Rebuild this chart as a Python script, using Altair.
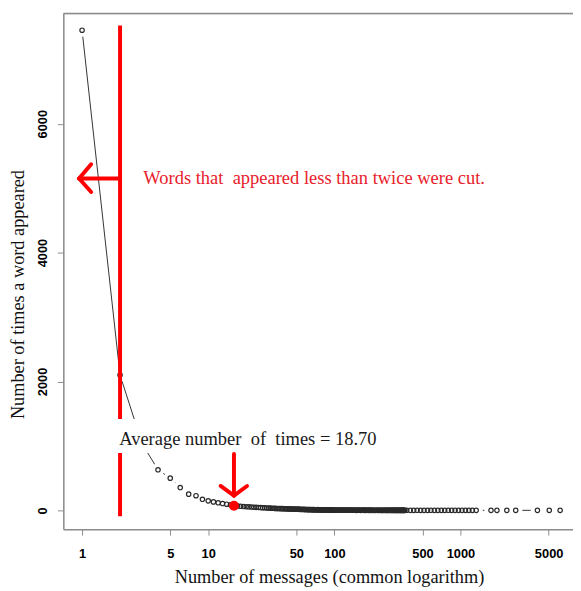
import altair as alt
import pandas as pd

# ---- data ----
messages_head = [1, 2, 3, 4, 5, 6, 7, 8, 9, 10, 11, 12, 13, 14, 15, 16, 17, 18, 19, 20,
                 21, 22, 23, 24, 25, 26, 27, 28, 29, 30, 31, 32, 33, 34, 35, 36, 37, 38, 39, 40,
                 41, 42, 43, 44, 45, 46, 47]
counts_head = [7450, 2100, 1030, 630, 500, 355, 252, 228, 172, 148, 132, 118, 106, 96, 86, 72, 70, 64, 60, 57,
               54, 52, 49, 47, 45, 43, 41, 40, 38, 37, 35, 34, 33, 31, 30, 29, 28, 28, 27, 26,
               25, 24, 24, 23, 22, 21, 21]

messages_band1 = [48, 49, 50, 51, 52, 53, 54, 55, 56, 57, 58, 59, 60, 61, 62, 63, 64, 65, 66, 67,
                  68, 69, 70, 71, 72, 73, 74, 75, 76, 77, 78, 79, 80, 81, 82, 83, 84, 85, 86, 87,
                  88, 89, 90, 91, 92, 93, 94, 95, 96, 97, 98, 99, 100]
counts_band1 = [20, 18, 21, 17, 19, 16, 18, 15, 17, 14, 16, 15, 13, 15, 12, 14, 13, 11, 13, 12,
                10, 12, 11, 9, 11, 10, 12, 9, 10, 8, 10, 9, 7, 9, 8, 10, 7, 8, 6, 8,
                7, 9, 6, 7, 5, 7, 6, 8, 5, 6, 7, 5, 6]

messages_band2 = [102, 104, 106, 108, 110, 112, 114, 116, 118, 120, 122, 124, 126, 128, 130, 132, 134, 136, 138, 140,
                  142, 144, 146, 148, 150, 152, 154, 156, 158, 160, 162, 164, 166, 168, 170, 172, 174, 176, 178, 180,
                  182, 184, 186, 188, 190, 192, 194, 196, 198, 200]
counts_band2 = [5, 7, 4, 6, 5, 3, 6, 4, 5, 3, 4, 6, 3, 5, 2, 4, 3, 5, 2, 4,
                3, 2, 4, 3, 1, 3, 2, 4, 2, 3, 1, 3, 2, 2, 4, 1, 3, 2, 1, 3,
                2, 2, 1, 3, 2, 1, 2, 3, 1, 2]

messages_band3 = [203, 206, 209, 212, 215, 218, 221, 224, 227, 230, 233, 236, 239, 242, 245, 248, 251, 254,
                  257, 260, 263, 266, 269, 272, 275, 278, 281, 284, 287, 290, 293, 296, 299, 302, 305, 308,
                  311, 314, 317, 320, 323, 326, 329, 332, 335, 338, 341, 344, 347, 350, 353, 356, 359, 362]
counts_band3 = [2, 1, 3, 1, 2, 2, 1, 3, 1, 2, 1, 2, 1, 1, 3, 1, 2, 1,
                2, 1, 1, 2, 1, 1, 2, 1, 3, 1, 1, 2, 1, 1, 2, 1, 1, 2,
                1, 1, 1, 2, 1, 1, 2, 1, 1, 1, 2, 1, 1, 1, 2, 1, 1, 1]

messages_sparse = [375, 400, 426, 453, 483, 514, 548, 583, 621, 662, 705, 750, 799, 851, 906, 965,
                   1028, 1095, 1166, 1242, 1332]
counts_sparse = [2, 1, 1, 2, 1, 1, 1, 2, 1, 1, 1, 1, 2, 1, 1, 1, 1, 1, 1, 1, 1]

messages_tail = [1746, 1945, 2330, 2741, 4074, 5058, 6166]
counts_tail = [1, 1, 1, 1, 1, 1, 1]

x_ticks = [1, 5, 10, 50, 100, 500, 1000, 5000]
y_ticks = [0, 2000, 4000, 6000]
cut_threshold = 2
average_label = "Average number\u00a0 of\u00a0 times = 18.70"
average_point_x = [16]
average_point_y = [72]
cut_label = "Words that\u00a0 appeared less than twice were cut."

df = pd.DataFrame({
    "x": messages_head + messages_band1 + messages_band2 + messages_band3 + messages_sparse + messages_tail,
    "y": counts_head + counts_band1 + counts_band2 + counts_band3 + counts_sparse + counts_tail,
})

W, H = 516, 522
SERIF = "Liberation Serif"
SANS = "'Liberation Sans Narrow', 'Liberation Sans', Arial, sans-serif"
RED = "#ff0000"
FRAME = "#8c8c8c"

x_scale = alt.Scale(type="log", domain=[0.71, 7800], nice=False)
y_scale = alt.Scale(domain=[-291, 7709], nice=False, zero=False)

x_axis = alt.Axis(values=x_ticks, format="d", title="Number of  messages (common logarithm)",
                  grid=False, domainColor=FRAME, domainWidth=1.5, tickColor=FRAME, tickSize=6,
                  labelFont=SANS, labelFontWeight="bold", labelFontSize=13,
                  labelColor="black", labelPadding=13, labelFlush=False, labelOverlap=False,
                  titleFont=SERIF, titleFontSize=18.5, titleFontWeight="normal", titleColor="#111",
                  titleX=269, titleY=54, titleAlign="center", titleBaseline="alphabetic")
y_axis = alt.Axis(values=y_ticks, format="d", title="Number of times a word appeared",
                  grid=False, domainColor=FRAME, domainWidth=1.5, tickColor=FRAME, tickSize=6,
                  labelFont=SANS, labelFontWeight="bold", labelFontSize=13,
                  labelColor="black", labelPadding=11, labelAngle=270, labelAlign="center",
                  labelBaseline="alphabetic", labelFlush=False, labelOverlap=False,
                  titleFont=SERIF, titleFontSize=18.5, titleFontWeight="normal", titleColor="#111",
                  titleAngle=270, titleX=-46, titleY=284, titleAlign="center", titleBaseline="middle")


def X(f="x"):
    return alt.X(f, type="quantitative", scale=x_scale, axis=x_axis)


def Y(f="y"):
    return alt.Y(f, type="quantitative", scale=y_scale, axis=y_axis)


base = alt.Chart(df)
curve = base.mark_line(color="#333333", strokeWidth=1).encode(x=X(), y=Y(), order="x:Q")
halo = base.mark_circle(color="white", opacity=1, size=180).encode(x=X(), y=Y())
rings = base.mark_point(shape="circle", filled=False, color="#2a2a2a", strokeWidth=1.2,
                        size=20, opacity=1).encode(x=X(), y=Y())

# red cut line at x = 2
cut_df = pd.DataFrame({"x": [cut_threshold], "y": [-92], "y2": [7525]})
cut_line = alt.Chart(cut_df).mark_rule(color=RED, strokeWidth=4).encode(x=X(), y=Y(), y2="y2")

# white box behind the average label
box_df = pd.DataFrame({"x": [1.85], "x2": [263], "y": [889], "y2": [1418]})
box = alt.Chart(box_df).mark_rect(color="white", opacity=1).encode(x=X(), x2="x2", y=Y(), y2="y2")

avg_text_df = pd.DataFrame({"x": [1.97], "y": [1016], "t": [average_label]})
avg_text = alt.Chart(avg_text_df).mark_text(align="left", baseline="alphabetic", font=SERIF,
                                            fontSize=18.7, color="#1a1a1a").encode(x=X(), y=Y(), text="t")

# down arrow to the average point
down_df = pd.DataFrame({"x": [16, 16, 16], "x2": [16, 12.55, 20.32],
                        "y": [874, 230, 230], "y2": [230, 379, 379]})
down_arrow = alt.Chart(down_df).mark_rule(color=RED, strokeWidth=4, strokeCap="round").encode(
    x=X(), x2="x2", y=Y(), y2="y2")

avg_df = pd.DataFrame({"x": average_point_x, "y": average_point_y})
avg_dot = alt.Chart(avg_df).mark_circle(color=RED, opacity=1, size=100).encode(x=X(), y=Y())

# left arrow from cut line
left_df = pd.DataFrame({"x": [2, 0.947, 0.947], "x2": [0.947, 1.18, 1.18],
                        "y": [5150, 5150, 5150], "y2": [5150, 5370, 4940]})
left_arrow = alt.Chart(left_df).mark_rule(color=RED, strokeWidth=4, strokeCap="round").encode(
    x=X(), x2="x2", y=Y(), y2="y2")

cut_text_df = pd.DataFrame({"x": [3.06], "y": [5057], "t": [cut_label]})
cut_text = alt.Chart(cut_text_df).mark_text(align="left", baseline="alphabetic", font=SERIF,
                                            fontSize=18.7, color="#e8202a").encode(x=X(), y=Y(), text="t")

top_frame = alt.Chart(cut_df).mark_rule(color=FRAME, strokeWidth=1.5).encode(
    x=alt.value(0), x2=alt.value(W), y=alt.value(0))

chart = alt.layer(curve, halo, rings, cut_line, box, avg_text, down_arrow, avg_dot,
                  left_arrow, cut_text, top_frame).properties(
    width=W, height=H,
    autosize=alt.AutoSizeParams(type="none"),
    padding={"left": 56, "top": 2, "right": 0, "bottom": 583 - 2 - H},
).configure_view(stroke=None).configure(background="white")

chart.save("out.html", embed_options={"renderer": "svg", "actions": False})
